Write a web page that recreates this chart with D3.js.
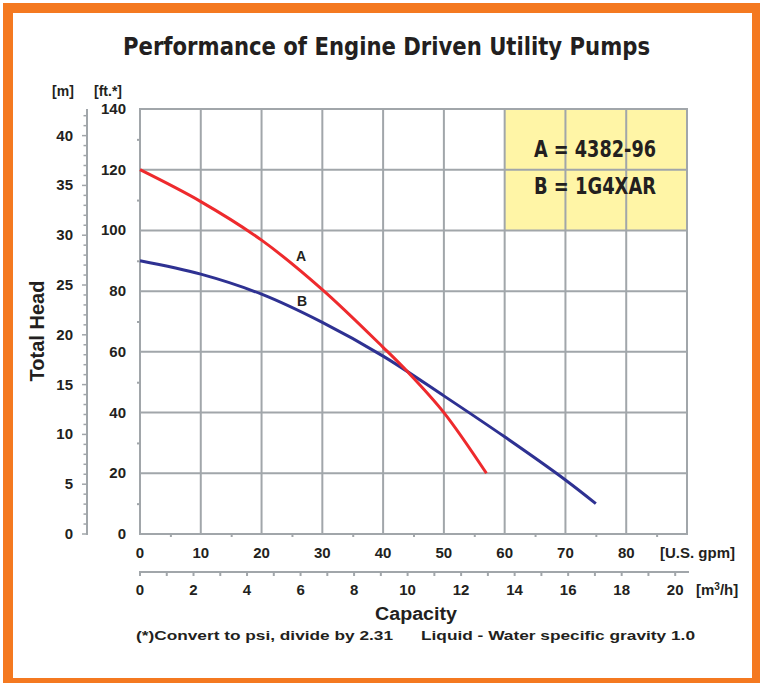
<!DOCTYPE html>
<html>
<head>
<meta charset="utf-8">
<script src="https://cdn.jsdelivr.net/npm/d3@7"></script>
<style>
  body { margin: 0; background: #fff; }
  svg { display: block; }
  text { font-family: "Liberation Sans", Arial, sans-serif; font-weight: bold; fill: #231f20; }
  .narrow { font-family: "Liberation Sans Narrow", "DejaVu Sans Condensed", "Liberation Sans", sans-serif; }
</style>
</head>
<body>
<script>
'use strict';

// curve A (4382-96): capacity [gpm] vs head [ft]
const gpmA = [0, 10, 20, 30, 40, 44, 50, 57];
const headA = [120, 109.5, 96.8, 80.5, 61.5, 53.5, 40, 20];

// curve B (1G4XAR)
const gpmB = [0, 10, 20, 30, 40, 50, 60, 70, 75];
const headB = [90, 85.6, 79, 69.7, 58.6, 45.5, 32, 17.8, 10];

// tick labels
const gpmTicks = [0, 10, 20, 30, 40, 50, 60, 70, 80];
const m3hTicks = [0, 2, 4, 6, 8, 10, 12, 14, 16, 18, 20];
const ftTicks = [0, 20, 40, 60, 80, 100, 120, 140];
const mTicks = [0, 5, 10, 15, 20, 25, 30, 35, 40];

const legendLines = ["A = 4382-96", "B = 1G4XAR"];

(function() {
  const W = 760, H = 683;
  const grey = "#a1a6aa";
  const FT_PER_M = 3.2808;
  const GPM_PER_M3H = 4.4029;

  let svg = d3.select("body").append("svg")
    .attr("width", W)
    .attr("height", H);

  // orange frame
  svg.append("rect").attr("x", 3).attr("y", 3).attr("width", W).attr("height", H)
    .attr("fill", "#f47920");
  svg.append("rect").attr("x", 13).attr("y", 13).attr("width", 739).attr("height", 665)
    .attr("fill", "#fff");

  // scales
  let x = d3.scaleLinear().domain([0, 90]).range([140, 687]);
  let y = d3.scaleLinear().domain([0, 140]).range([534, 109]);
  let yM = d3.scaleLinear().domain([0, 140 / FT_PER_M]).range([534, 109]);
  let xM = d3.scaleLinear().domain([0, 90 / GPM_PER_M3H]).range([140, 687]);

  // legend box (behind grid)
  svg.append("rect")
    .attr("x", x(60)).attr("y", y(140))
    .attr("width", x(90) - x(60)).attr("height", y(100) - y(140))
    .attr("fill", "#fff5a6");

  // grid
  let grid = svg.append("g").attr("stroke", grey).attr("stroke-width", 2);
  d3.range(0, 100, 10).forEach(function(v) {
    grid.append("line").attr("x1", x(v)).attr("x2", x(v)).attr("y1", y(0) + 1).attr("y2", y(140) - 1);
  });
  d3.range(0, 160, 20).forEach(function(v) {
    grid.append("line").attr("x1", x(0) - 1).attr("x2", x(90) + 1).attr("y1", y(v)).attr("y2", y(v));
  });

  // ft axis: minor ticks + labels
  svg.append("g")
    .attr("transform", "translate(" + x(0) + ",0)")
    .call(d3.axisLeft(y).tickValues(d3.range(10, 140, 20)).tickSize(3).tickFormat(""))
    .call(g => g.select(".domain").remove())
    .call(g => g.selectAll("line").attr("stroke", grey).attr("stroke-width", 2));
  svg.selectAll(".ftLabel")
    .data(ftTicks)
    .enter()
    .append("text")
      .attr("x", 126)
      .attr("y", d => y(d) + 5)
      .attr("text-anchor", "end")
      .style("font-size", "15px")
      .text(d => d);

  // metre axis
  let mAxis = svg.append("g").attr("transform", "translate(87,0)");
  mAxis.append("line").attr("x1", 0).attr("x2", 0).attr("y1", y(0) + 1).attr("y2", y(140))
    .attr("stroke", grey).attr("stroke-width", 2);
  mAxis.selectAll(".mt")
    .data(d3.range(0, 43, 1))
    .enter()
    .append("line")
      .attr("x1", d => d % 5 == 0 ? -5 : -3.5)
      .attr("x2", 0)
      .attr("y1", d => yM(d))
      .attr("y2", d => yM(d))
      .attr("stroke", grey)
      .attr("stroke-width", 1.5);
  svg.selectAll(".mLabel")
    .data(mTicks)
    .enter()
    .append("text")
      .attr("x", 73)
      .attr("y", d => yM(d) + 5)
      .attr("text-anchor", "end")
      .style("font-size", "15px")
      .text(d => d);

  // gpm axis
  svg.append("g")
    .attr("transform", "translate(0," + y(0) + ")")
    .call(d3.axisBottom(x).tickValues(d3.range(5, 95, 10)).tickSize(3).tickFormat(""))
    .call(g => g.select(".domain").remove())
    .call(g => g.selectAll("line").attr("stroke", grey).attr("stroke-width", 2));
  svg.selectAll(".gpmLabel")
    .data(gpmTicks)
    .enter()
    .append("text")
      .attr("x", d => x(d))
      .attr("y", 558)
      .attr("text-anchor", "middle")
      .style("font-size", "15px")
      .text(d => d);
  svg.append("text").attr("x", 660).attr("y", 558).style("font-size", "15px").text("[U.S. gpm]");

  // m3/h axis
  let m3Axis = svg.append("g").attr("transform", "translate(0,572)");
  m3Axis.append("line").attr("x1", x(0) - 1).attr("x2", 689).attr("y1", 0).attr("y2", 0)
    .attr("stroke", grey).attr("stroke-width", 2);
  m3Axis.selectAll(".m3t")
    .data(d3.range(0, 21, 1))
    .enter()
    .append("line")
      .attr("x1", d => xM(d)).attr("x2", d => xM(d))
      .attr("y1", 0).attr("y2", 4)
      .attr("stroke", grey).attr("stroke-width", 2);
  svg.selectAll(".m3Label")
    .data(m3hTicks)
    .enter()
    .append("text")
      .attr("x", d => xM(d))
      .attr("y", 595)
      .attr("text-anchor", "middle")
      .style("font-size", "15px")
      .text(d => d);
  let unit = svg.append("text").attr("x", 696).attr("y", 595).style("font-size", "15px");
  unit.append("tspan").text("[m");
  unit.append("tspan").attr("dy", -5).style("font-size", "10px").text("3");
  unit.append("tspan").attr("dy", 5).text("/h]");

  // curves
  let line = d3.line()
    .x(d => x(d[0]))
    .y(d => y(d[1]))
    .curve(d3.curveCatmullRom.alpha(0.5));
  let dataA = gpmA.map((g, i) => [g, headA[i]]);
  let dataB = gpmB.map((g, i) => [g, headB[i]]);
  svg.append("path").datum(dataB).attr("d", line)
    .attr("fill", "none").attr("stroke", "#2e3192").attr("stroke-width", 3);
  svg.append("path").datum(dataA).attr("d", line)
    .attr("fill", "none").attr("stroke", "#ee2a2d").attr("stroke-width", 3);

  svg.append("text").attr("x", 301).attr("y", 261).attr("text-anchor", "middle")
    .style("font-size", "14px").text("A");
  svg.append("text").attr("x", 302).attr("y", 306).attr("text-anchor", "middle")
    .style("font-size", "14px").text("B");

  // legend text
  svg.selectAll(".legend")
    .data(legendLines)
    .enter()
    .append("text")
      .attr("class", "narrow")
      .attr("x", 534)
      .attr("y", (d, i) => 157 + i * 37)
      .attr("textLength", 122)
      .attr("lengthAdjust", "spacingAndGlyphs")
      .style("font-size", "23px")
      .text(d => d);

  // titles and labels
  svg.append("text")
    .attr("class", "narrow")
    .attr("x", 123).attr("y", 55)
    .attr("textLength", 527)
    .attr("lengthAdjust", "spacingAndGlyphs")
    .style("font-size", "24px")
    .text("Performance of Engine Driven Utility Pumps");

  svg.append("text").attr("x", 63).attr("y", 96).attr("text-anchor", "middle")
    .style("font-size", "14px").text("[m]");
  svg.append("text").attr("x", 108).attr("y", 96).attr("text-anchor", "middle")
    .style("font-size", "14px").text("[ft.*]");

  svg.append("text")
    .attr("transform", "translate(44,331)rotate(-90)")
    .attr("text-anchor", "middle")
    .style("font-size", "20px")
    .text("Total Head");

  svg.append("text").attr("x", 375).attr("y", 620)
    .attr("textLength", 82).attr("lengthAdjust", "spacingAndGlyphs")
    .style("font-size", "18px").text("Capacity");

  svg.append("text").attr("x", 136).attr("y", 640)
    .attr("textLength", 257).attr("lengthAdjust", "spacingAndGlyphs")
    .style("font-size", "13.5px").text("(*)Convert to psi, divide by 2.31");
  svg.append("text").attr("x", 421).attr("y", 640)
    .attr("textLength", 274).attr("lengthAdjust", "spacingAndGlyphs")
    .style("font-size", "13.5px").text("Liquid - Water specific gravity 1.0");
})();
</script>
</body>
</html>
